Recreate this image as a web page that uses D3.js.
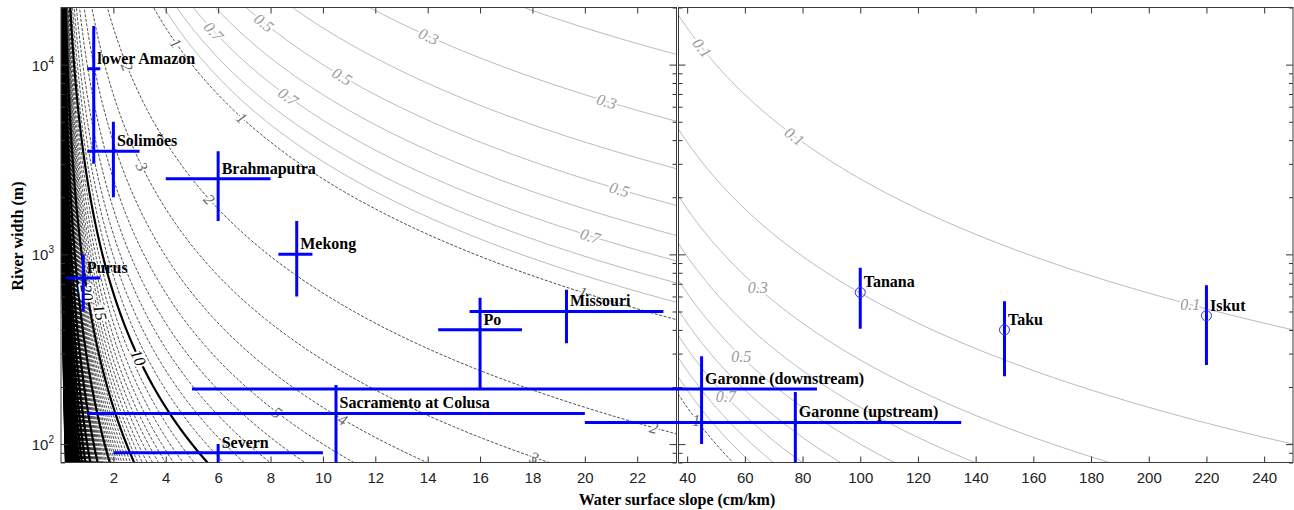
<!DOCTYPE html>
<html>
<head>
<meta charset="utf-8">
<script src="https://cdn.jsdelivr.net/npm/d3@7"></script>
<style>
body { margin: 0; background: #fff; }
svg text { font-family: "Liberation Serif", "Times New Roman", serif; }
.tick text { font-family: "Liberation Sans", Arial, sans-serif; font-size: 15px; fill: #222; }
</style>
</head>
<body>
<svg id="chart" width="1294" height="510"></svg>
<script>
// river estimates (slope in cm/km, width in m)
var rivers   = ['lower Amazon', 'Solimões', 'Brahmaputra', 'Mekong', 'Purus', 'Missouri', 'Po',
                'Sacramento at Colusa', 'Severn', 'Garonne (downstream)', 'Garonne (upstream)',
                'Tanana', 'Taku', 'Iskut']
var slope    = [1.25, 2, 6, 9, 0.85, 19.3, 16, 10.5, 6, 45, 77.5, 100, 150, 220]
var slopeLo  = [1, 1, 4, 8.3, 0.2, 15.6, 14.4, 1, 2, 5, 20, null, null, null]
var slopeHi  = [1.5, 3, 8, 9.6, 1.5, 23, 17.6, 20, 10, 85, 135, null, null, null]
var width    = [9500, 3500, 2500, 1000, 750, 500, 400, 145, 90, 195, 130, 630, 400, 475]
var widthLo  = [3000, 2000, 1500, 600, 500, 340, 195, 70, 70, 100, 70, 405, 228, 261]
var widthHi  = [16000, 5000, 3500, 1500, 1000, 650, 590, 205, 100, 290, 188, 850, 566, 687]
var circled  = ['Tanana', 'Taku', 'Iskut']

// contour field: value = K / (slope * sqrt(width))
var K = 500
var greyLevels  = [0.1, 0.2, 0.3, 0.4, 0.5, 0.6, 0.7, 0.8, 0.9]
var dashLevels  = d3.range(1, 301).filter(function (v) { return v % 10 != 0 })
var thickLevels = d3.range(10, 301, 10)

// contour labels: level and the width where the label sits
var labLevelL = [0.7, 0.5, 0.3, 0.5, 0.3, 0.7, 0.5, 0.7, 1, 1, 2, 3, 2, 1, 2, 3, 4, 5, 10, 15, 20]
var labWidthL = [15000, 16650, 14100, 8680, 6400, 6780, 2200, 1250, 13000, 5250, 9760, 2900, 1950, 630, 122, 85, 135, 147, 286, 494, 629]
var labLevelR = [0.1, 0.1]
var labWidthR = [12240, 4190]
var flatLevelR = [0.3, 0.5, 0.7, 1, 0.1]
var flatWidthR = [668, 290, 179, 134, 544]

// ticks
var xTicksL = [2, 4, 6, 8, 10, 12, 14, 16, 18, 20, 22]
var xTicksR = [40, 60, 80, 100, 120, 140, 160, 180, 200, 220, 240]
var yMajor  = [100, 1000, 10000]
var yExp    = ['2', '3', '4']
var yMinor  = [80, 90, 200, 300, 400, 500, 600, 700, 800, 900, 2000, 3000, 4000, 5000, 6000, 7000, 8000, 9000, 20000]

var plotTop = 7.5, plotBottom = 462.5
var xL = d3.scaleLinear().domain([0, 23.5]).range([61, 676.5])
var xR = d3.scaleLinear().domain([37, 250]).range([678.5, 1293])
var y = d3.scaleLog().domain([80, 20000]).range([plotBottom, plotTop])

var panels = [
    { id: 'L', x: xL, maxLevel: 400 },
    { id: 'R', x: xR, maxLevel: 2 }
]

var svg = d3.select('#chart')
var defs = svg.append('defs')

panels.forEach(function (p) {
    var r = p.x.range()
    defs.append('clipPath').attr('id', 'clip' + p.id)
        .append('rect').attr('x', r[0]).attr('y', plotTop).attr('width', r[1] - r[0]).attr('height', plotBottom - plotTop)
    // bars may run across the gap between the panels
    defs.append('clipPath').attr('id', 'bar' + p.id)
        .append('rect').attr('x', p.id == 'L' ? r[0] : r[0] - 1.5).attr('y', plotTop)
        .attr('width', r[1] - r[0] + 1.5).attr('height', plotBottom - plotTop)
})

var logLo = Math.log10(60), logHi = Math.log10(30000)
var wSamples = d3.range(0, 241).map(function (i) { return Math.pow(10, logLo + i * (logHi - logLo) / 240) })

function sAt(level, w) { return K / (level * Math.sqrt(w)) }

function contourPath(level, x) {
    return d3.line()
        .x(function (w) { return x(sAt(level, w)) })
        .y(function (w) { return y(w) })(wSamples)
}

function labelAngle(level, w, x) {
    var w1 = w * 1.03, w2 = w / 1.03
    var a = Math.atan2(y(w2) - y(w1), x(sAt(level, w2)) - x(sAt(level, w1))) * 180 / Math.PI
    if (a > 90) a -= 180
    if (a < -90) a += 180
    return a
}

function labelColor(level) {
    if (level >= 10) return '#000'
    if (level >= 1) return '#666'
    return '#9a9a9a'
}

// ////////////
// CONTOURS //
// ////////////
panels.forEach(function (p) {
    var g = svg.append('g').attr('clip-path', 'url(#clip' + p.id + ')')

    g.selectAll('.grey')
        .data(greyLevels)
        .enter().append('path')
        .attr('d', function (v) { return contourPath(v, p.x) })
        .attr('fill', 'none')
        .attr('stroke', '#a8a8a8')
        .attr('stroke-width', 0.8)

    g.selectAll('.dash')
        .data(dashLevels.filter(function (v) { return v <= p.maxLevel }))
        .enter().append('path')
        .attr('d', function (v) { return contourPath(v, p.x) })
        .attr('fill', 'none')
        .attr('stroke', '#000')
        .attr('stroke-width', 0.7)
        .attr('stroke-dasharray', '3,1.6')

    g.selectAll('.thick')
        .data(thickLevels.filter(function (v) { return v <= p.maxLevel }))
        .enter().append('path')
        .attr('d', function (v) { return contourPath(v, p.x) })
        .attr('fill', 'none')
        .attr('stroke', '#000')
        .attr('stroke-width', 2.2)

    var labs
    if (p.id == 'L') {
        labs = labLevelL.map(function (v, i) { return { level: v, w: labWidthL[i], rot: true } })
    } else {
        labs = labLevelR.map(function (v, i) { return { level: v, w: labWidthR[i], rot: true } })
            .concat(flatLevelR.map(function (v, i) { return { level: v, w: flatWidthR[i], rot: false } }))
    }

    g.selectAll('.clab')
        .data(labs)
        .enter().append('text')
        .attr('transform', function (d) {
            var px = p.x(sAt(d.level, d.w)), py = y(d.w)
            var a = d.rot ? labelAngle(d.level, d.w, p.x) : 0
            return 'translate(' + px + ',' + py + ') rotate(' + a + ')'
        })
        .attr('text-anchor', 'middle')
        .attr('dy', '0.35em')
        .style('font-size', '16px')
        .style('font-style', 'italic')
        .style('fill', function (d) { return labelColor(d.level) })
        .style('stroke', '#fff')
        .style('stroke-width', 4)
        .style('stroke-linejoin', 'round')
        .style('paint-order', 'stroke')
        .text(function (d) { return d.level })
})

// //////////
// AXES //
// //////////
panels.forEach(function (p) {
    var r = p.x.range()
    var ticksX = p.id == 'L' ? xTicksL : xTicksR

    var gb = svg.append('g').attr('transform', 'translate(0,' + plotBottom + ')')
        .call(d3.axisBottom(p.x).tickValues(ticksX).tickSize(-6).tickPadding(10))
    var gt = svg.append('g').attr('transform', 'translate(0,' + plotTop + ')')
        .call(d3.axisTop(p.x).tickValues(ticksX).tickSize(-6).tickFormat(''))

    var gl = svg.append('g').attr('transform', 'translate(' + r[0] + ',0)')
        .call(d3.axisLeft(y).tickValues(yMajor).tickSize(-7).tickFormat(''))
    var glm = svg.append('g').attr('transform', 'translate(' + r[0] + ',0)')
        .call(d3.axisLeft(y).tickValues(yMinor).tickSize(-4).tickFormat(''))
    var gr = svg.append('g').attr('transform', 'translate(' + r[1] + ',0)')
        .call(d3.axisRight(y).tickValues(yMajor).tickSize(-7).tickFormat(''))
    var grm = svg.append('g').attr('transform', 'translate(' + r[1] + ',0)')
        .call(d3.axisRight(y).tickValues(yMinor).tickSize(-4).tickFormat(''))

    ;[gb, gt, gl, glm, gr, grm].forEach(function (g) {
        g.select('.domain').remove()
        g.selectAll('.tick line').attr('stroke', '#333')
    })

    svg.append('rect')
        .attr('x', r[0]).attr('y', plotTop)
        .attr('width', r[1] - r[0]).attr('height', plotBottom - plotTop)
        .attr('fill', 'none')
        .attr('stroke', '#3a3a3a')
        .attr('stroke-width', 1)
})

// y tick labels 10^n
var ylab = svg.selectAll('.ylab')
    .data(yMajor)
    .enter().append('text')
    .attr('x', 54)
    .attr('y', function (d) { return y(d) + 6 })
    .attr('text-anchor', 'end')
    .style('font-family', '"Liberation Sans", Arial, sans-serif')
    .style('font-size', '15px')
    .style('fill', '#222')
ylab.append('tspan').text('10')
ylab.append('tspan')
    .attr('dy', -7)
    .style('font-size', '10px')
    .text(function (d, i) { return yExp[i] })

svg.append('text')
    .attr('x', 677).attr('y', 505)
    .attr('text-anchor', 'middle')
    .style('font-size', '16px')
    .style('font-weight', 'bold')
    .text('Water surface slope (cm/km)')

svg.append('text')
    .attr('transform', 'translate(23,236) rotate(-90)')
    .attr('text-anchor', 'middle')
    .style('font-size', '16px')
    .style('font-weight', 'bold')
    .text('River width (m)')

// ////////////////
// RIVER ERRORS //
// ////////////////
var table = rivers.map(function (name, i) {
    return { name: name, s: slope[i], sLo: slopeLo[i], sHi: slopeHi[i], w: width[i], wLo: widthLo[i], wHi: widthHi[i] }
})

panels.forEach(function (p) {
    var g = svg.append('g').attr('clip-path', 'url(#bar' + p.id + ')')
    var x = p.x

    g.selectAll('.hbar')
        .data(table.filter(function (d) { return d.sLo != null }))
        .enter().append('line')
        .attr('x1', function (d) { return x(d.sLo) })
        .attr('x2', function (d) { return x(d.sHi) })
        .attr('y1', function (d) { return y(d.w) })
        .attr('y2', function (d) { return y(d.w) })
        .attr('stroke', '#0000ff')
        .attr('stroke-width', 3)

    g.selectAll('.vbar')
        .data(table)
        .enter().append('line')
        .attr('x1', function (d) { return x(d.s) })
        .attr('x2', function (d) { return x(d.s) })
        .attr('y1', function (d) { return y(d.wLo) })
        .attr('y2', function (d) { return y(d.wHi) })
        .attr('stroke', '#0000ff')
        .attr('stroke-width', 3)

    g.selectAll('.dot')
        .data(table.filter(function (d) { return circled.indexOf(d.name) >= 0 }))
        .enter().append('circle')
        .attr('cx', function (d) { return x(d.s) })
        .attr('cy', function (d) { return y(d.w) })
        .attr('r', 5)
        .attr('fill', 'none')
        .attr('stroke', '#2a2aff')
        .attr('stroke-width', 1)
})

svg.selectAll('.rlab')
    .data(table)
    .enter().append('text')
    .attr('x', function (d) { return (d.s < 23.5 ? xL(d.s) : xR(d.s)) + 3.5 })
    .attr('y', function (d) { return y(d.w) - 5 })
    .style('font-size', '16px')
    .style('font-weight', 'bold')
    .style('fill', '#000')
    .text(function (d) { return d.name })
</script>
</body>
</html>
